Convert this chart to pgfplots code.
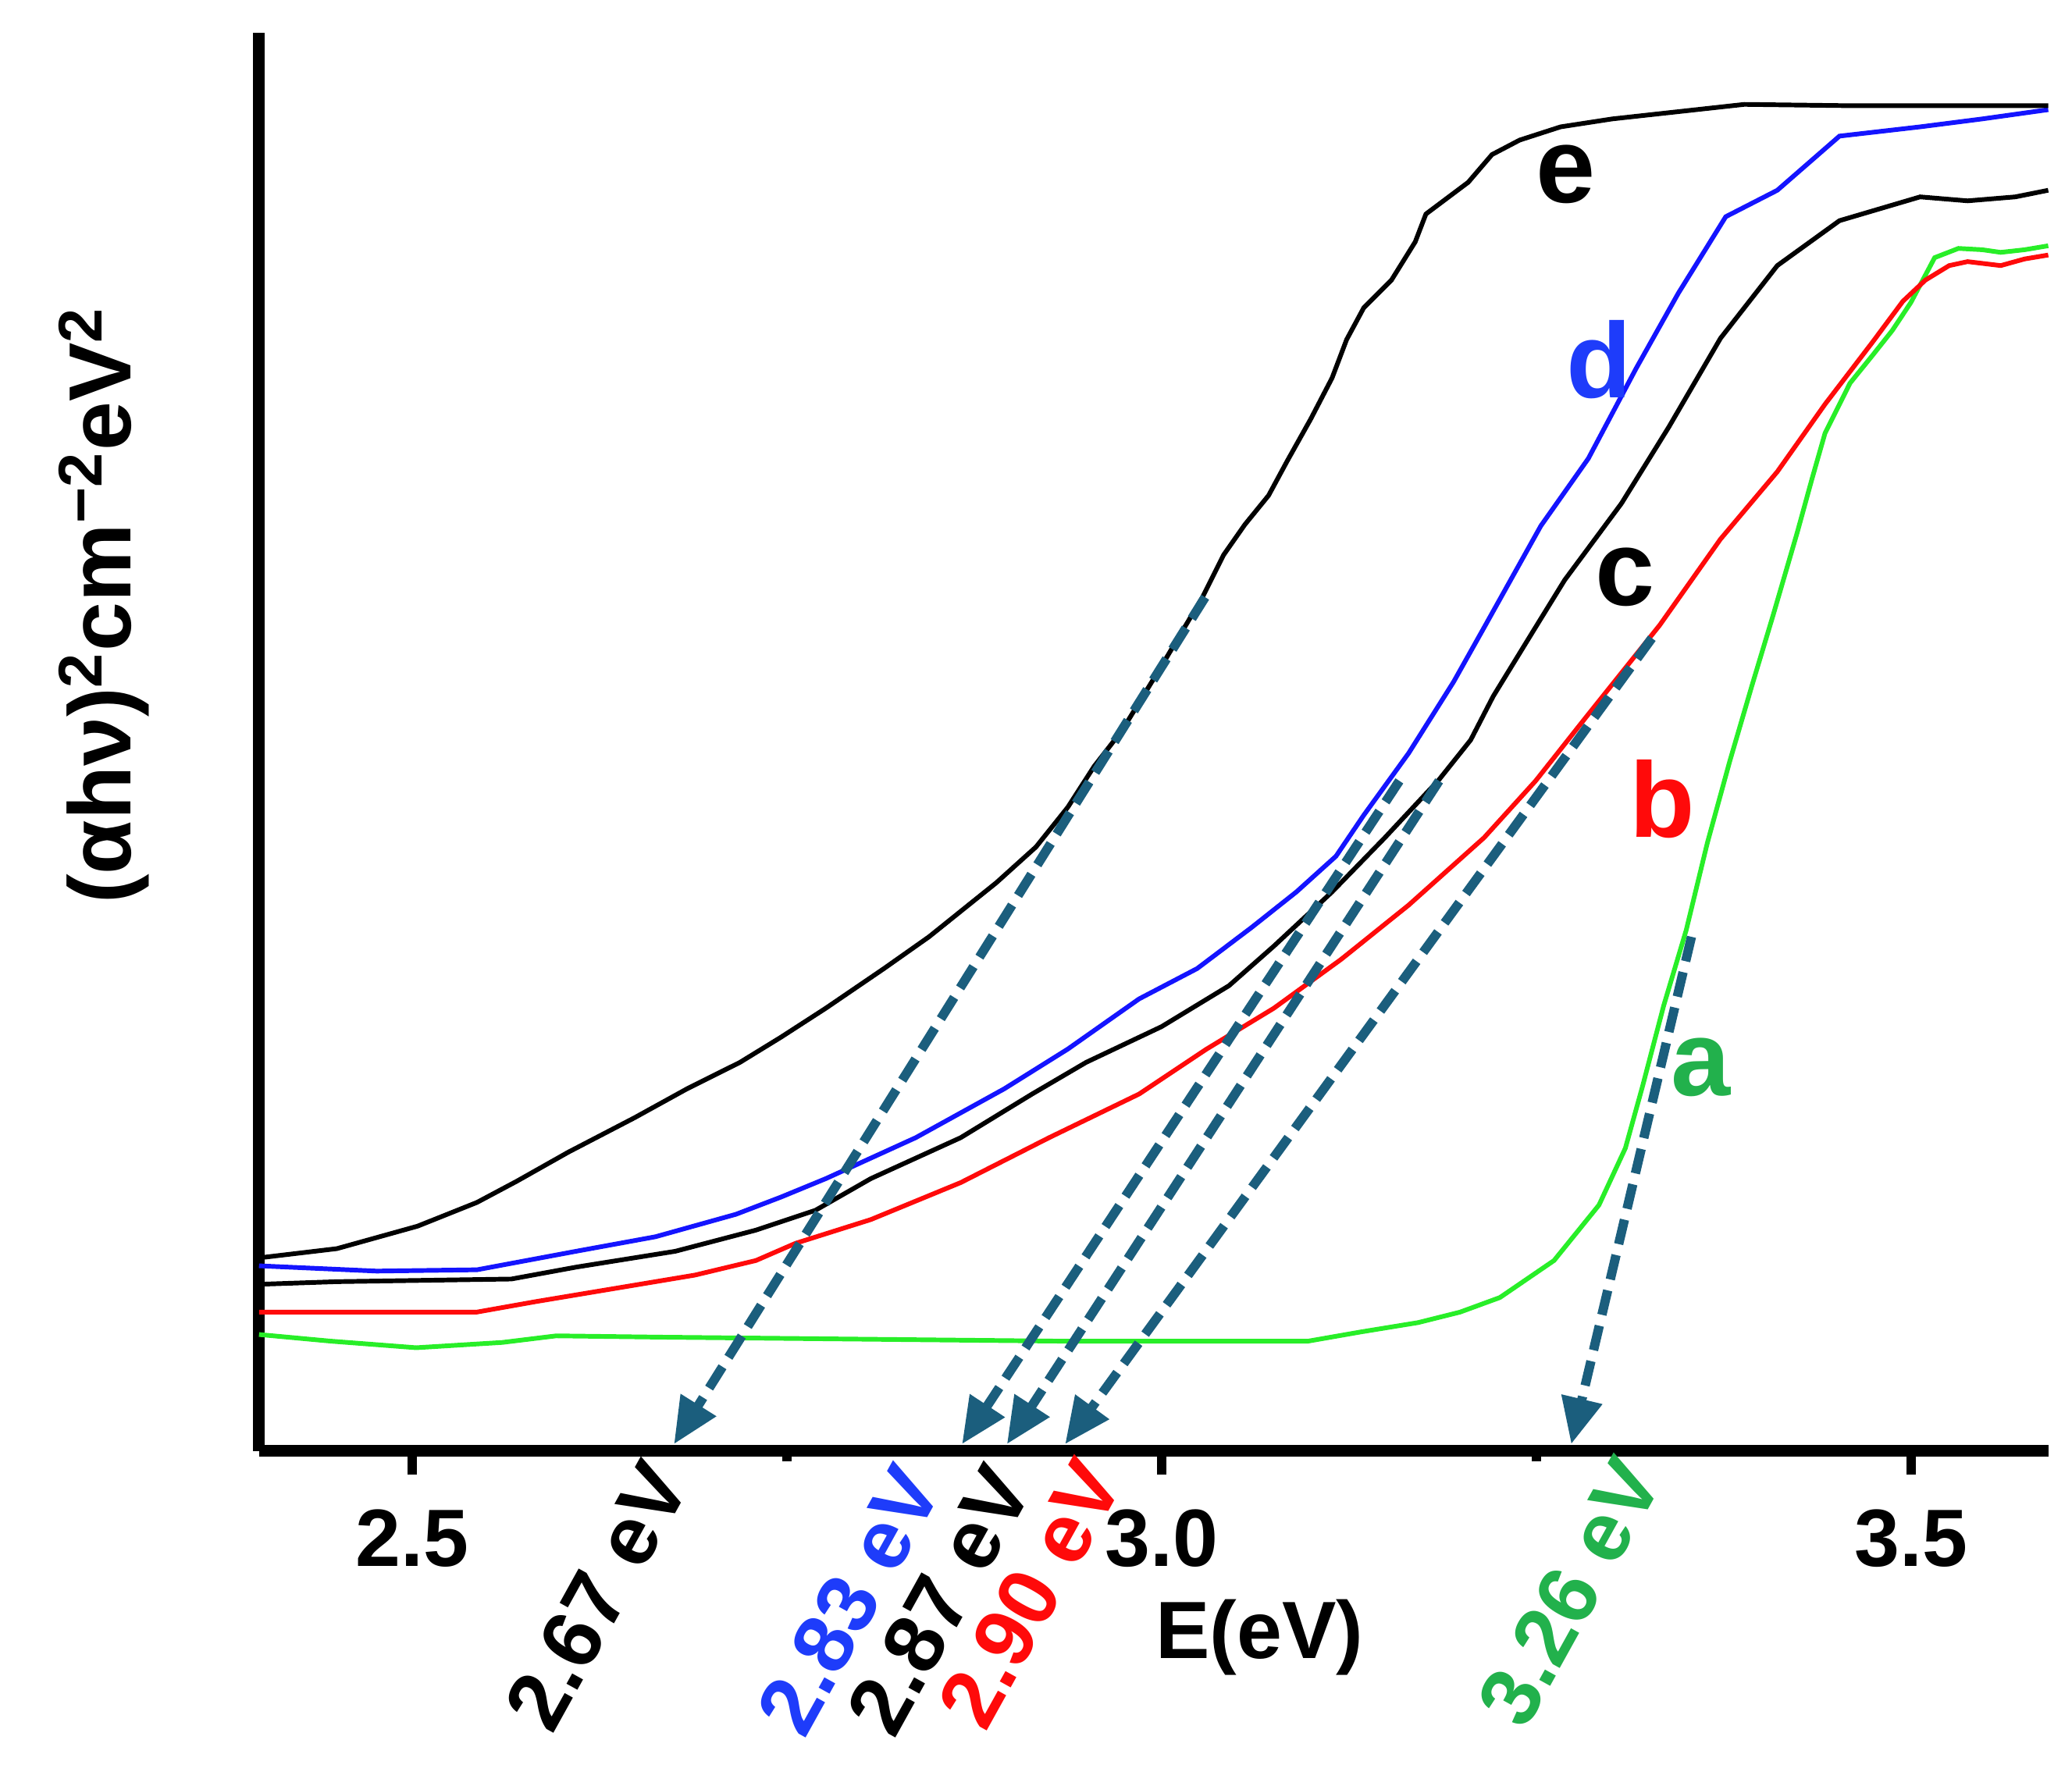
\documentclass[border=0pt]{standalone}
\usepackage{fontspec}
\setmainfont{Liberation Sans}
\usepackage{pgfplots}
\pgfplotsset{compat=1.18}
\usetikzlibrary{arrows.meta}
\definecolor{cA}{RGB}{40,238,40}
\definecolor{cAlab}{RGB}{34,177,76}
\definecolor{cB}{RGB}{255,10,10}
\definecolor{cD}{RGB}{20,20,255}
\definecolor{cDlab}{RGB}{30,60,250}
\definecolor{arr}{RGB}{27,94,125}
\begin{document}
\begin{tikzpicture}
\useasboundingbox (-19.6mm,-24.3mm) rectangle (137.2mm,109.8mm);
\begin{axis}[
  at={(0,0)}, anchor=south west,
  scale only axis, width=135.4mm, height=107.3mm,
  xmin=2.3977, xmax=3.5917, ymin=0, ymax=1073,
  axis x line*=bottom, axis y line*=left,
  axis line style={line width=2.6pt, black},
  ytick=\empty,
  xtick={2.5,3.0,3.5}, xticklabels={2.5,3.0,3.5},
  minor xtick={2.75,3.25},
  tick align=outside,
  major tick length=1.8mm, minor tick length=0.8mm,
  every tick/.style={black, line width=2pt},
  xticklabel style={font=\fontsize{17.5}{20}\selectfont\bfseries, anchor=north, inner sep=0pt, yshift=-2.6mm},
  clip=false,
]
% a (green)
\addplot[cA, line width=1pt] coordinates {
(2.3977,88) (2.4453,83) (2.5026,78) (2.5600,82) (2.5961,87) (2.6658,86) (2.7540,85) (2.8422,84) (2.9303,83) (3.0185,83) (3.0979,83) (3.1332,90) (3.1711,97) (3.1993,105) (3.2258,116) (3.2619,144) (3.2919,186) (3.3095,229) (3.3210,276) (3.3351,337) (3.3501,394) (3.3642,460) (3.3792,522) (3.3942,580) (3.4080,632) (3.4242,695) (3.4339,735) (3.4427,770) (3.4594,808) (3.4744,829) (3.4877,848) (3.5000,869) (3.5159,903) (3.5318,910) (3.5476,909) (3.5600,907) (3.5759,909) (3.5917,912)
};
% b (red)
\addplot[cB, line width=1pt] coordinates {
(2.3977,105) (2.4762,105) (2.5432,105) (2.5829,113) (2.6358,123) (2.6887,133) (2.7293,144) (2.7557,157) (2.8060,175) (2.8660,203) (2.9250,237) (2.9850,270) (3.0300,304) (3.0750,335) (3.1199,372) (3.1649,413) (3.2152,464) (3.2496,507) (3.2831,555) (3.3325,625) (3.3730,690) (3.4109,741) (3.4427,792) (3.4744,839) (3.4947,870) (3.5097,886) (3.5256,897) (3.5379,900) (3.5600,897) (3.5759,902) (3.5917,905)
};
% c (black)
\addplot[black, line width=1pt] coordinates {
(2.3977,126) (2.4497,128) (2.5661,130) (2.6093,139) (2.6755,151) (2.7293,167) (2.7690,182) (2.8060,206) (2.8660,237) (2.9136,270) (2.9497,294) (3.0000,321) (3.0450,352) (3.0750,382) (3.1138,423) (3.1490,464) (3.1852,508) (3.2063,538) (3.2213,571) (3.2478,620) (3.2690,659) (3.3069,717) (3.3386,775) (3.3730,842) (3.4109,897) (3.4524,931) (3.5062,949) (3.5379,946) (3.5697,949) (3.5917,954)
};
% d (blue)
\addplot[cD, line width=1pt] coordinates {
(2.3977,140) (2.4762,136) (2.5432,137) (2.6093,151) (2.6623,162) (2.7160,179) (2.7460,192) (2.7760,206) (2.8360,237) (2.8951,274) (2.9374,304) (2.9850,342) (3.0238,365) (3.0600,396) (3.0900,423) (3.1164,450) (3.1349,481) (3.1649,528) (3.1949,582) (3.2152,623) (3.2531,700) (3.2848,751) (3.3166,819) (3.3448,876) (3.3765,934) (3.4109,954) (3.4524,995) (3.5062,1002) (3.5476,1008) (3.5917,1015)
};
% e (black)
\addplot[black, line width=1pt] coordinates {
(2.3977,146) (2.4497,153) (2.5035,170) (2.5432,188) (2.5697,204) (2.6041,226) (2.6482,252) (2.6834,274) (2.7187,294) (2.7460,313) (2.7760,335) (2.8148,365) (2.8448,389) (2.8898,430) (2.9162,457) (2.9374,487) (2.9550,518) (2.9735,545) (3.0000,594) (3.0273,646) (3.0414,678) (3.0556,701) (3.0714,723) (3.0838,749) (3.0996,781) (3.1138,812) (3.1235,841) (3.1349,865) (3.1534,886) (3.1693,915) (3.1764,936) (3.2046,960) (3.2205,981) (3.2390,992) (3.2663,1002) (3.3007,1008) (3.3889,1019) (3.4594,1018) (3.5917,1018)
};
% dashed extrapolation arrows
\pgfplotsset{arrstyle/.style={arr, line width=2pt, dash pattern=on 1.9mm off 0.85mm, -{Triangle[length=3.5mm,width=3mm]}}}
\addplot[arrstyle] coordinates {(3.0291,646) (2.6746,5)};
\addplot[arrstyle] coordinates {(3.1587,507) (2.8668,5)};
\addplot[arrstyle] coordinates {(3.1852,507) (2.8968,5)};
\addplot[arrstyle] coordinates {(3.3272,615) (2.9356,5)};
\addplot[arrstyle] coordinates {(3.3536,389) (3.2734,5)};
% curve letters
\node[font=\fontsize{23}{26}\selectfont\bfseries, black] at (axis cs:3.2698,966) {e};
\node[font=\fontsize{23}{26}\selectfont\bfseries, cDlab] at (axis cs:3.2919,826) {d};
\node[font=\fontsize{23}{26}\selectfont\bfseries, black] at (axis cs:3.3095,661) {c};
\node[font=\fontsize{23}{26}\selectfont\bfseries, cB] at (axis cs:3.3342,493) {b};
\node[font=\fontsize{23}{26}\selectfont\bfseries, cAlab] at (axis cs:3.3598,290) {a};
% band gap values
\node[font=\fontsize{18}{20}\selectfont\bfseries, black, rotate=61, anchor=east, inner sep=0pt] at (axis cs:2.6702,-14) {2.67 eV};
\node[font=\fontsize{18}{20}\selectfont\bfseries, cDlab, rotate=61, anchor=east, inner sep=0pt] at (axis cs:2.8386,-17) {2.83 eV};
\node[font=\fontsize{18}{20}\selectfont\bfseries, black, rotate=61, anchor=east, inner sep=0pt] at (axis cs:2.8986,-17) {2.87 eV};
\node[font=\fontsize{18}{20}\selectfont\bfseries, cB, rotate=61, anchor=east, inner sep=0pt] at (axis cs:2.9594,-12) {2.90 eV};
\node[font=\fontsize{18}{20}\selectfont\bfseries, cAlab, rotate=61, anchor=east, inner sep=0pt] at (axis cs:3.3192,-11) {3.26 eV};
% axis titles
\node[font=\fontsize{17.5}{20}\selectfont\bfseries, anchor=base] at (axis cs:3.0653,-157) {E(eV)};
\node[font=\fontsize{19}{22}\selectfont\bfseries, rotate=90, anchor=base] at (axis cs:2.3122,640) {(αhν)\textsuperscript{2}cm\textsuperscript{−2}eV\textsuperscript{2}};
\end{axis}
\end{tikzpicture}
\end{document}
